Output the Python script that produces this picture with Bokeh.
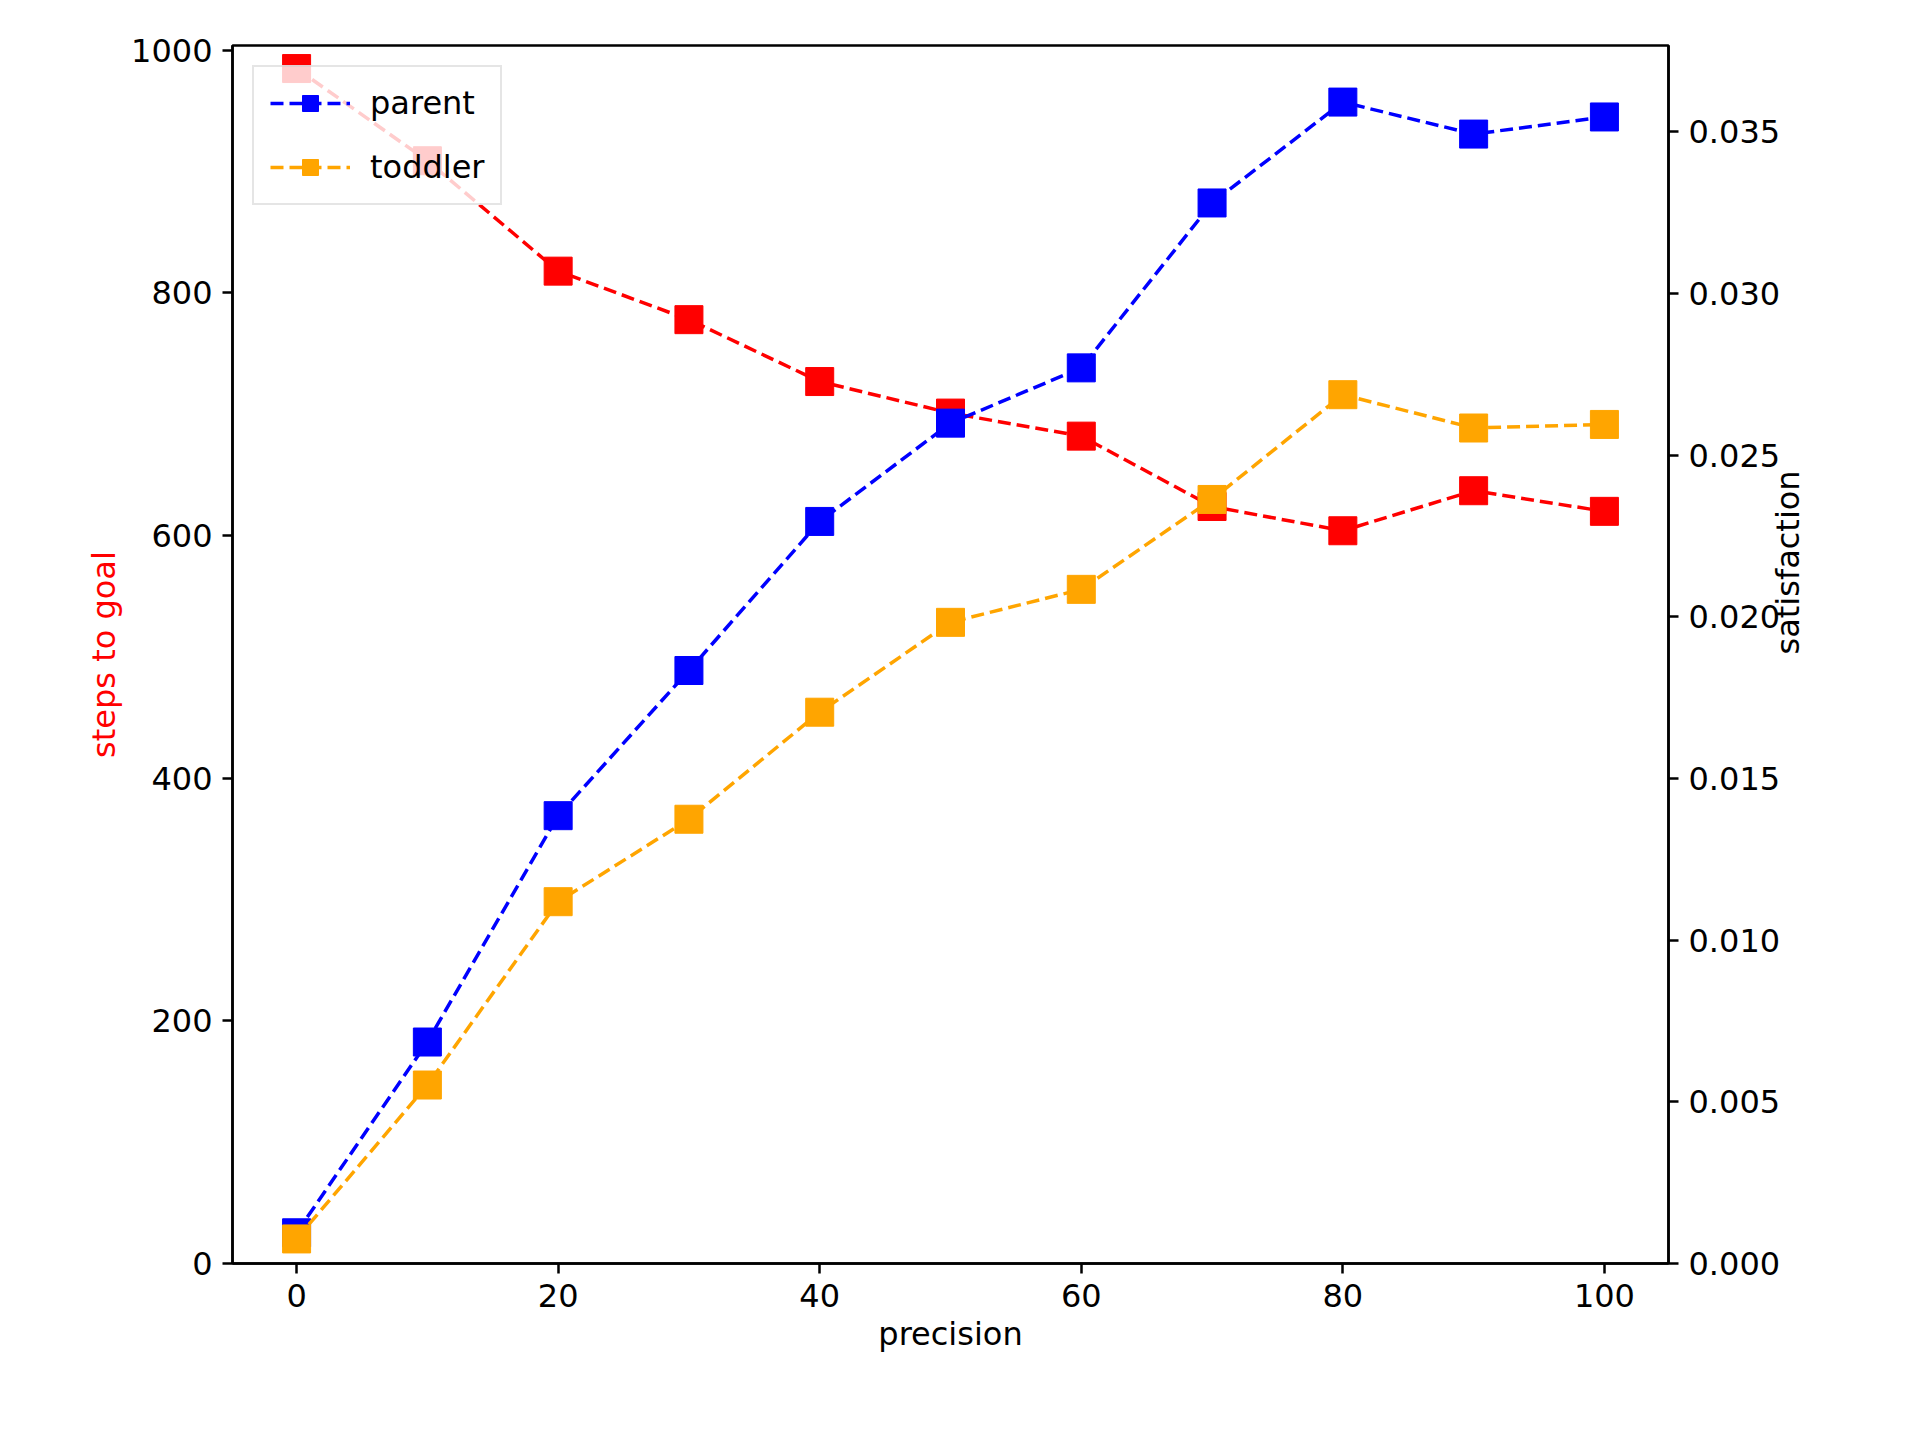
import math
from bokeh.plotting import figure
from bokeh.models import Range1d, LinearAxis, Legend, LegendItem, FixedTicker, PrintfTickFormatter
from bokeh.embed import file_html
from bokeh.resources import INLINE

precision = [0, 10, 20, 30, 40, 50, 60, 70, 80, 90, 100]
steps = [985, 909, 818, 778, 727, 701, 682, 624, 604, 637, 620]
parent = [0.00095, 0.00685, 0.01385, 0.01834, 0.02295, 0.02599, 0.0277, 0.0328, 0.03592, 0.03493, 0.03546]
toddler = [0.00076, 0.00552, 0.01119, 0.01374, 0.01705, 0.01983, 0.02085, 0.02363, 0.02687, 0.02584, 0.02595]

FONT = "DejaVu Sans"
FS = "32px"
p = figure(frame_width=1436, frame_height=1218, output_backend="svg", toolbar_location=None,
           x_range=Range1d(-4.9, 104.9), y_range=Range1d(0, 1004),
           min_border_left=232, min_border_top=45, min_border_right=230, min_border_bottom=160)
p.extra_y_ranges = {"sat": Range1d(0, 0.03767)}
p.xgrid.visible = False
p.ygrid.visible = False
p.outline_line_color = "black"
p.outline_line_width = 2.5

p.xaxis.ticker = FixedTicker(ticks=[0, 20, 40, 60, 80, 100])
p.yaxis.ticker = FixedTicker(ticks=[0, 200, 400, 600, 800, 1000])
p.xaxis.axis_label = "precision"
p.yaxis.axis_label = "steps to goal"

r_axis = LinearAxis(y_range_name="sat", axis_label="satisfaction",
                    ticker=FixedTicker(ticks=[0, 0.005, 0.01, 0.015, 0.02, 0.025, 0.03, 0.035]),
                    formatter=PrintfTickFormatter(format="%.3f"))
p.add_layout(r_axis, "right")
r_axis.axis_label_orientation = math.pi / 2

for ax in [p.xaxis[0], p.yaxis[0], r_axis]:
    ax.major_label_text_font = FONT
    ax.major_label_text_font_size = FS
    ax.major_label_text_color = "black"
    ax.axis_label_text_font = FONT
    ax.axis_label_text_font_size = FS
    ax.axis_label_text_font_style = "normal"
    ax.axis_label_text_color = "black"
    ax.minor_tick_line_color = None
    ax.major_tick_out = 10
    ax.major_tick_in = 0
    ax.major_tick_line_width = 2.5
    ax.axis_line_width = 2.5
    ax.major_label_standoff = 10
p.yaxis[0].axis_label_text_color = "red"

LW = 3.5
MS = 28
p.line(precision, steps, color="red", line_dash="13 6", line_width=LW)
p.scatter(precision, steps, marker="square", size=MS, color="red")
bl = p.line(precision, parent, color="blue", line_dash="13 6", line_width=LW, y_range_name="sat")
bs = p.scatter(precision, parent, marker="square", size=MS, color="blue", y_range_name="sat")
ol = p.line(precision, toddler, color="orange", line_dash="13 6", line_width=LW, y_range_name="sat")
os_ = p.scatter(precision, toddler, marker="square", size=MS, color="orange", y_range_name="sat")

legend = Legend(items=[LegendItem(label="parent", renderers=[bl, bs]),
                       LegendItem(label="toddler", renderers=[ol, os_]),],
                location="top_left", label_text_font=FONT, label_text_font_size=FS,
                label_text_color="black",
                glyph_width=80, glyph_height=40, spacing=24, padding=16, margin=20,
                label_standoff=20,
                border_line_color="#cccccc", border_line_width=2.5, background_fill_alpha=0.8)
p.add_layout(legend)

open("out.html", "w").write(file_html(p, INLINE))
